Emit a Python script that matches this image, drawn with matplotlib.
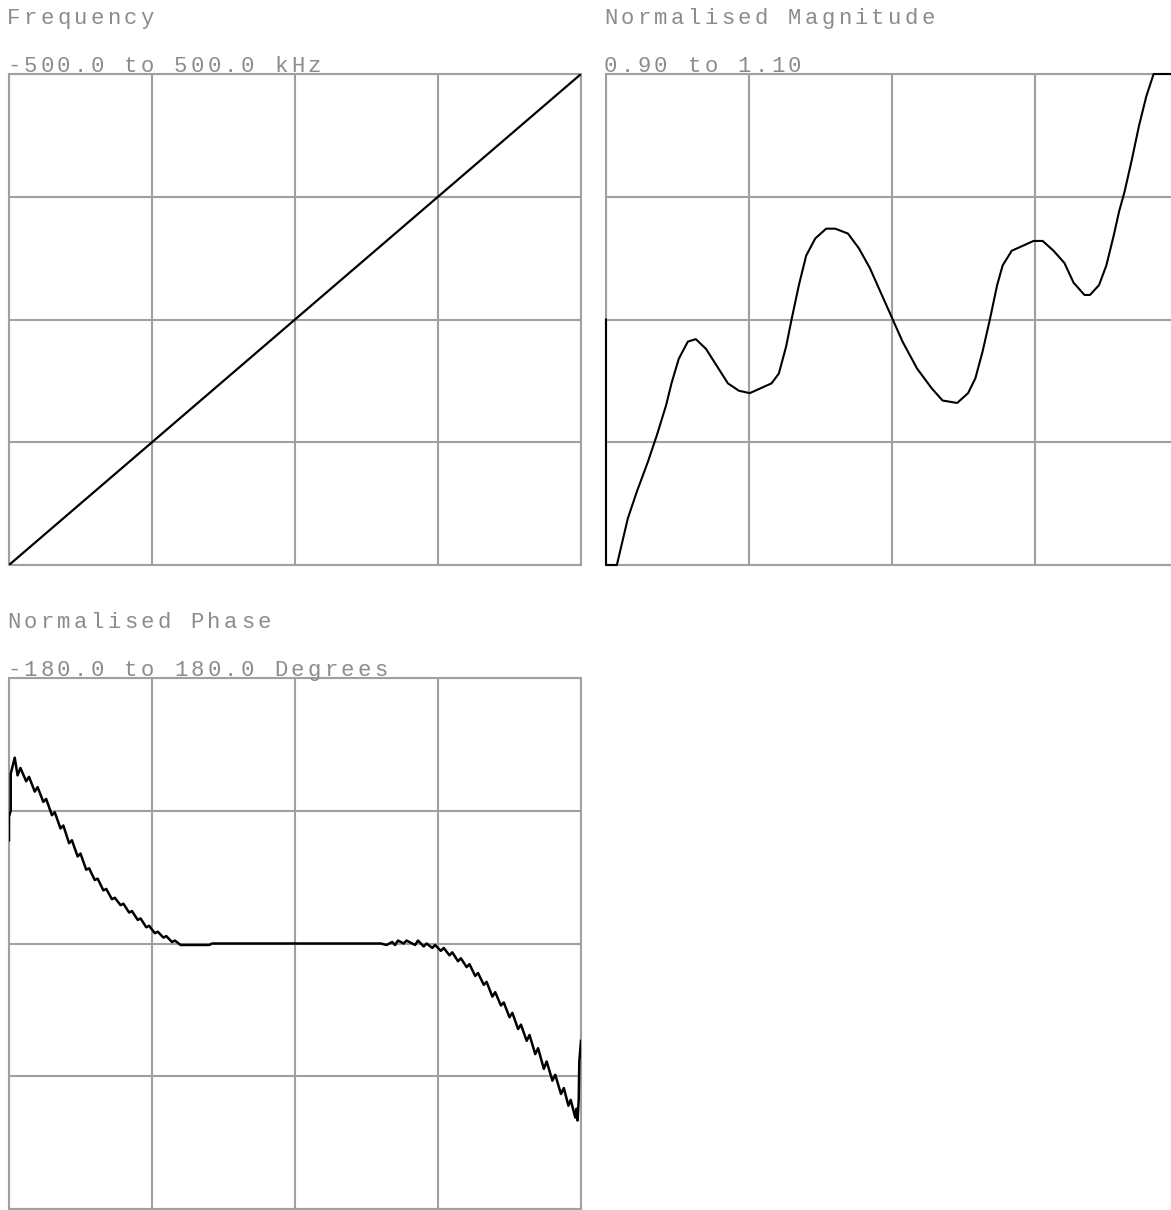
import numpy as np
import matplotlib
matplotlib.use('Agg')
import matplotlib.pyplot as plt

W, H = 1171, 1210

# frequency sweep (kHz) against position
freq_pos = [-500.0, 500.0]
freq_khz = [-500.0, 500.0]

# normalised magnitude vs frequency (kHz)
mag_khz = [-500.0, -500.0, -481.0, -461.8, -445.9, -426.8, -410.9, -395.0, -385.5,
           -372.8, -356.9, -342.9, -325.1, -306.0, -286.9, -267.8, -248.7, -229.6,
           -210.6, -197.8, -185.1, -175.6, -162.8, -150.1, -134.2, -115.1, -99.2,
           -77.0, -57.9, -38.8, -19.7, -0.6, 18.4, 43.9, 69.3, 88.4, 113.9, 133.0,
           145.7, 158.4, 171.1, 183.8, 193.4, 209.3, 228.4, 247.5, 263.4, 282.4,
           301.5, 317.4, 336.5, 346.1, 361.9, 374.7, 387.4, 397.0, 406.5, 419.2,
           431.9, 444.7, 457.4, 500.0]
mag_val = [1.000, 0.900, 0.900, 0.919, 0.930, 0.942, 0.953, 0.965, 0.974,
           0.984, 0.991, 0.992, 0.988, 0.981, 0.974, 0.971, 0.970, 0.972,
           0.974, 0.978, 0.989, 1.000, 1.014, 1.026, 1.033, 1.037, 1.037,
           1.035, 1.029, 1.021, 1.011, 1.001, 0.991, 0.980, 0.972, 0.967, 0.966, 0.970,
           0.976, 0.987, 1.000, 1.014, 1.022, 1.028, 1.030, 1.032, 1.032, 1.028,
           1.023, 1.015, 1.010, 1.010, 1.014, 1.022, 1.034, 1.044, 1.052, 1.065,
           1.079, 1.091, 1.100, 1.100]

# normalised phase vs frequency (kHz)
phase_khz = [-500, -500, -497, -497, -490, -485, -480, -470, -465, -455, -450, -440,
             -435, -425, -420, -410, -405, -395, -390, -380, -375, -365, -360,
             -350, -345, -335, -330, -320, -315, -305, -300, -290, -285, -275,
             -270, -260, -255, -245, -240, -230, -225, -215, -210, -200, -180,
             -150, -145, 150, 160, 170, 175, 180, 190, 195, 200, 210, 215, 225,
             230, 240, 245, 255, 260, 270, 275, 285, 290, 300, 305, 315, 320,
             330, 335, 345, 350, 360, 365, 375, 380, 390, 395, 405, 410, 420,
             425, 435, 440, 450, 455, 465, 470, 478, 482, 490, 492, 494, 496,
             497, 500]
phase_deg = [70, 86, 90, 115, 126, 114, 119, 110, 113, 103, 106, 96,
             98, 87, 89, 78, 80, 68, 70, 59, 61, 50, 51,
             43, 44, 36, 37, 30, 31, 26, 27, 21, 22, 16,
             17, 11, 12, 7, 8, 4, 5, 1, 2, -1, -1,
             -1, 0, 0, -1, 1, -1, 2, 0, 2, 1, -1, 2, -2,
             0, -3, -1, -5, -3, -8, -6, -12, -10, -16, -14, -22, -20,
             -28, -26, -36, -33, -42, -40, -50, -47, -58, -55, -66, -62, -75,
             -71, -85, -80, -93, -89, -102, -98, -110, -106, -118, -112, -120, -106,
             -80, -66]

grid_col = '#a0a0a0'
text_col = '#8c8c8c'

fig = plt.figure(figsize=(W / 100, H / 100), dpi=100)


def px_axes(x0, y0, x1, y1):
    return fig.add_axes([x0 / W, 1 - y1 / H, (x1 - x0) / W, (y1 - y0) / H])


def spaced_text(x_px, y_px, s, pitch=16.7):
    # fixed pitch, wider than the font's own advance
    for i, ch in enumerate(s):
        fig.text((x_px + i * pitch) / W, 1 - y_px / H, ch, ha='left', va='baseline',
                 fontsize=16, family='Liberation Mono', color=text_col)


def scope(ax, ylo, yhi):
    ax.set_xlim(-500, 500)
    ax.set_ylim(ylo, yhi)
    ax.set_xticks(np.linspace(-500, 500, 5))
    ax.set_yticks(np.linspace(ylo, yhi, 5))
    ax.tick_params(length=0, labelbottom=False, labelleft=False)
    ax.grid(True, color=grid_col, lw=1.5)
    for sp in ax.spines.values():
        sp.set_color(grid_col)
        sp.set_linewidth(1.5)
    ax.set_axisbelow(True)


ax1 = px_axes(9, 74, 581, 565)
scope(ax1, -500, 500)
ax1.plot(freq_pos, freq_khz, color='black', lw=1.6, zorder=3)

ax2 = px_axes(606, 74, 1178, 565)
scope(ax2, 0.90, 1.10)
ax2.plot(mag_khz, mag_val, color='black', lw=1.5, clip_on=False, zorder=3)

ax3 = px_axes(9, 678, 581, 1209)
scope(ax3, -180, 180)
ax3.plot(phase_khz, phase_deg, color='black', lw=1.8, zorder=3)

spaced_text(7, 24, 'Frequency')
spaced_text(7, 72, '-500.0 to 500.0 kHz')
spaced_text(604, 24, 'Normalised Magnitude')
spaced_text(604, 72, '0.90 to 1.10')
spaced_text(7, 628, 'Normalised Phase')
spaced_text(7, 676, '-180.0 to 180.0 Degrees')

fig.savefig('out.png', dpi=100)
